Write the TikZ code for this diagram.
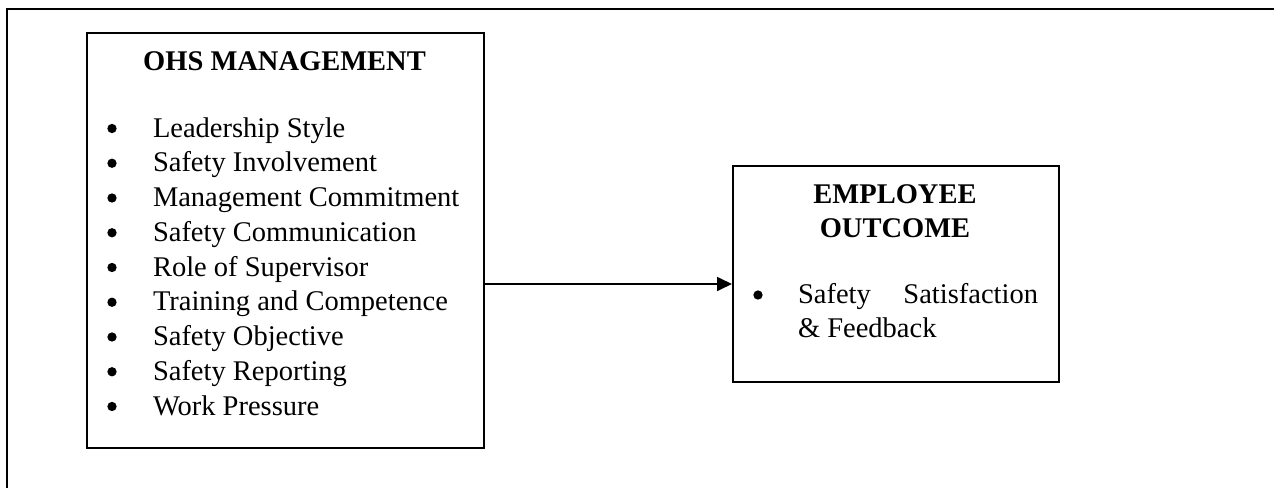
\documentclass[tikz,border=0pt]{standalone}
\usepackage{fontspec}
\setmainfont{Liberation Serif}
\usetikzlibrary{arrows.meta}
\tikzset{
  txt/.style={font=\fontsize{28.5}{34.75}\selectfont, inner sep=0pt, outer sep=0pt},
  ttl/.style={txt, font=\fontsize{28.5}{34.75}\selectfont\bfseries, anchor=base},
  itm/.style={txt, anchor=base west},
  bul/.style={circle, fill=black, draw=none, inner sep=0pt, minimum size=9.3pt},
  boxx/.style={draw, line width=1.9pt, rectangle, inner sep=0pt, anchor=north west},
  conn/.style={line width=1.7pt, -{Triangle[length=15pt,width=14pt]}},
  frame/.style={line width=2pt}
}
\begin{document}
\begin{tikzpicture}[x=1pt,y=-1pt]
\useasboundingbox (0,0) rectangle (1274,488);
% outer frame (only top and left edges visible)
\coordinate (fTR) at (1274,9);
\coordinate (fTL) at (7,9);
\coordinate (fBL) at (7,488);
\draw[frame] (fTR) -- (fTL) -- (fBL);
% left box
\node[boxx, minimum width=397pt, minimum height=415pt] (lb) at (86,32) {};
\node[ttl] (lt) at (284.5,70) {OHS MANAGEMENT};
\foreach \t [count=\i] in {Leadership Style, Safety Involvement, Management Commitment, Safety Communication, Role of Supervisor, Training and Competence, Safety Objective, Safety Reporting, Work Pressure}{
  \node[bul] (b\i) at (112,{128.5+(\i-1)*34.75}) {};
  \node[itm] (i\i) at (153,{137+(\i-1)*34.75}) {\t};
}
% right box
\node[boxx, minimum width=326pt, minimum height=216pt] (rb) at (732,165) {};
\node[ttl] (rt1) at (895,203) {EMPLOYEE};
\node[ttl] (rt2) at (895,237) {OUTCOME};
\node[bul] (rbul) at (758,295) {};
\node[itm] (ri1) at (798,303) {\makebox[240pt][s]{Safety Satisfaction}};
\node[itm] (ri2) at (798,337) {\& Feedback};
% connector
\coordinate (ay) at (600,284);
\draw[conn] (lb.east |- ay) -- (rb.west |- ay);
\end{tikzpicture}
\end{document}
